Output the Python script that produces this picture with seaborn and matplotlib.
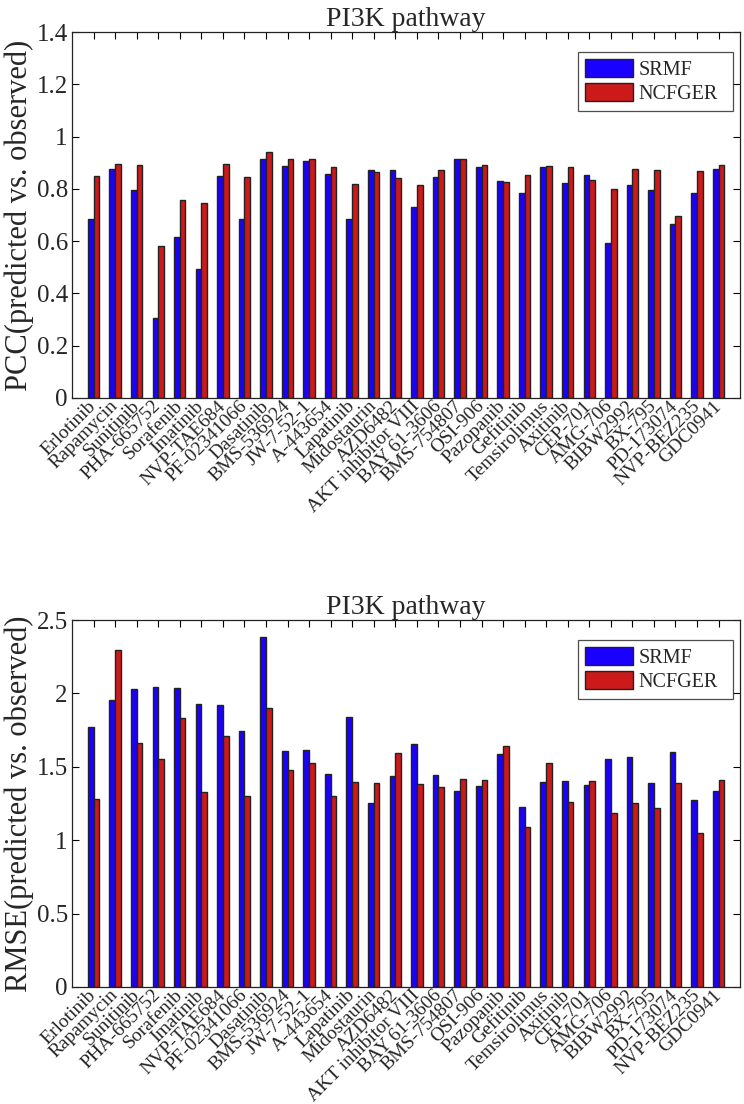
"""Bar charts of PCC and RMSE per drug for the PI3K pathway (SRMF vs NCFGER)."""
import matplotlib
matplotlib.use("Agg")
import matplotlib.pyplot as plt
import pandas as pd
import seaborn as sns

drugs = [
    "Erlotinib", "Rapamycin", "Sunitinib", "PHA-665752", "Sorafenib",
    "Imatinib", "NVP-TAE684", "PF-02341066", "Dasatinib", "BMS-536924",
    "JW-7-52-1", "A-443654", "Lapatinib", "Midostaurin", "AZD6482",
    "AKT inhibitor VIII", "BAY 61-3606", "BMS-754807", "OSI-906", "Pazopanib",
    "Gefitinib", "Temsirolimus", "Axitinib", "CEP-701", "AMG-706",
    "BIBW2992", "BX-795", "PD-173074", "NVP-BEZ235", "GDC0941",
]
methods = ["SRMF", "NCFGER"]

pcc_srmf = [
    0.685, 0.875, 0.794, 0.306, 0.617, 0.495, 0.849, 0.685, 0.914, 0.889,
    0.907, 0.856, 0.686, 0.872, 0.873, 0.731, 0.845, 0.914, 0.885, 0.830,
    0.783, 0.884, 0.824, 0.853, 0.593, 0.813, 0.797, 0.664, 0.784, 0.876,
]
pcc_ncfger = [
    0.849, 0.895, 0.891, 0.581, 0.757, 0.746, 0.894, 0.847, 0.940, 0.915,
    0.915, 0.884, 0.820, 0.863, 0.840, 0.813, 0.873, 0.915, 0.890, 0.826,
    0.852, 0.886, 0.882, 0.833, 0.799, 0.876, 0.872, 0.697, 0.868, 0.891,
]
rmse_srmf = [
    1.774, 1.958, 2.030, 2.042, 2.037, 1.926, 1.924, 1.747, 2.382, 1.608,
    1.613, 1.454, 1.842, 1.252, 1.436, 1.654, 1.443, 1.336, 1.372, 1.586,
    1.223, 1.397, 1.402, 1.375, 1.556, 1.568, 1.393, 1.599, 1.275, 1.336,
]
rmse_ncfger = [
    1.284, 2.294, 1.665, 1.554, 1.833, 1.327, 1.711, 1.300, 1.899, 1.479,
    1.527, 1.300, 1.395, 1.388, 1.597, 1.382, 1.361, 1.418, 1.413, 1.645,
    1.093, 1.524, 1.257, 1.402, 1.184, 1.255, 1.218, 1.393, 1.050, 1.409,
]

pcc_ticks = [0, 0.2, 0.4, 0.6, 0.8, 1, 1.2, 1.4]
rmse_ticks = [0, 0.5, 1, 1.5, 2, 2.5]

colors = ["#1a00ff", "#cc1a1a"]

sns.set_style("ticks")
plt.rcParams["font.family"] = ["Liberation Serif", "DejaVu Serif"]


def long_frame(srmf, ncfger):
    return pd.DataFrame({
        "drug": drugs * 2,
        "method": [methods[0]] * len(drugs) + [methods[1]] * len(drugs),
        "value": list(srmf) + list(ncfger),
    })


def draw_panel(ax, df, ticks, ylabel):
    sns.barplot(
        data=df, x="drug", y="value", hue="method", order=drugs,
        hue_order=methods, palette=colors, saturation=1, width=0.53,
        edgecolor="#222222", linewidth=1.0, ax=ax,
    )
    ax.set_xlim(-1, len(drugs))
    ax.set_ylim(ticks[0], ticks[-1])
    ax.set_yticks(ticks)
    ax.set_yticklabels([f"{t:g}" for t in ticks], fontsize=18)
    ax.set_xticks(range(len(drugs)))
    ax.set_xticklabels(drugs, fontsize=14, rotation=45, ha="right",
                       va="center", rotation_mode="anchor")
    ax.tick_params(axis="both", direction="in", length=5, width=0.8,
                   top=True, right=True, color="black")
    ax.tick_params(axis="x", pad=4)
    ax.tick_params(axis="y", pad=3)
    for s in ax.spines.values():
        s.set_visible(True)
        s.set_color("#222222")
        s.set_linewidth(0.9)
    ax.set_xlabel("")
    ax.set_ylabel(ylabel, fontsize=22, labelpad=2)
    ax.set_title("PI3K pathway", fontsize=20, pad=4)
    handles, labels = ax.get_legend_handles_labels()
    leg = ax.legend(
        handles, labels, loc="upper right",
        bbox_to_anchor=(0.7575, 0.0, 0.232, 0.946), mode="expand",
        borderaxespad=0, fontsize=14.5, frameon=True, fancybox=False,
        handlelength=2.4, handleheight=1.0, handletextpad=0.25,
        labelspacing=0.15, borderpad=0.35,
    )
    leg.get_frame().set_edgecolor("#222222")
    leg.get_frame().set_linewidth(0.9)


fig = plt.figure(figsize=(7.44, 11.04), dpi=100)
ax_top = fig.add_axes([0.0968, 0.6395, 0.898, 0.3315])
ax_bot = fig.add_axes([0.0968, 0.106, 0.898, 0.3324])

draw_panel(ax_top, long_frame(pcc_srmf, pcc_ncfger), pcc_ticks,
           "PCC(predicted vs. observed)")
draw_panel(ax_bot, long_frame(rmse_srmf, rmse_ncfger), rmse_ticks,
           "RMSE(predicted vs. observed)")

fig.savefig("out.png", dpi=100)
